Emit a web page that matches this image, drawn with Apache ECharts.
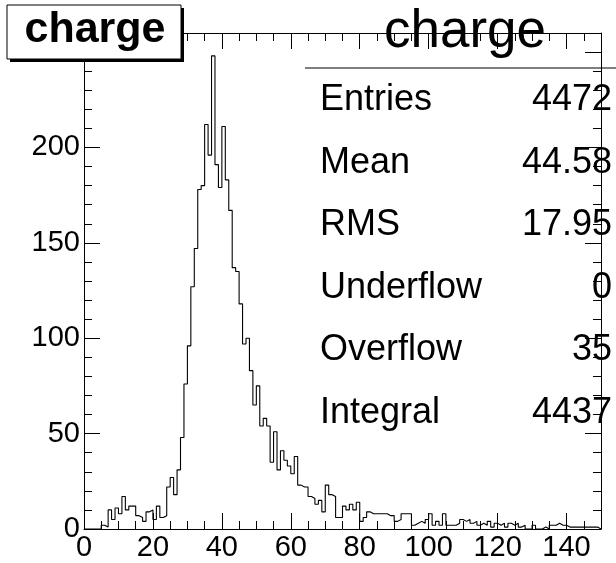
<!DOCTYPE html>
<html><head><meta charset="utf-8">
<script src="https://cdn.jsdelivr.net/npm/echarts@6/dist/echarts.min.js"></script>
<style>html,body{margin:0;padding:0;background:#fff}#c{width:616px;height:563px}</style>
</head><body><div id="c"></div>
<script>
// Histogram definition: 150 bins from 0 to 150
const binLow = 0;
const binHigh = 150;
const counts = [
  0,0,0,0,0, 2,1,10,5,11,
  8,17,10,12,12, 7,6,4,9,10,
  5,12,6,7,22, 27,18,31,48,76,
  96,127,147,178,180, 212,196,248,191,179,
  211,183,167,137,135, 118,97,100,83,65,
  75,54,58,54,35, 51,31,41,36,33,
  29,38,23,22,22, 17,16,13,15,9,
  23,18,17,6,6, 12,10,13,10,14,
  4,6,9,8,8, 8,8,8,7,7,
  4,5,8,8,8, 2,3,4,3,5,
  8,2,4,2,8, 2,2,2,3,5,
  4,5,3,4,2, 3,2,4,1,3,
  2,3,1,3,2, 3,1,2,0,0,
  2,0,0,1,0, 2,2,3,2,2,
  1,1,1,1,1, 1,1,1,1,0
];
const xMajorStep = 20;
const yMajorStep = 50;
const yMax = 260;
const histTitle = 'charge';
const statLabels = ['Entries','Mean','RMS','Underflow','Overflow','Integral'];
const statValues = ['4472','44.58','17.95','0','35','4437'];

const FONT = '"Liberation Sans", Arial, Helvetica, sans-serif';
const nBins = counts.length;
const binW = (binHigh - binLow) / nBins;
const stepData = counts.map((v, i) => [binLow + i * binW, v]);
stepData.push([binHigh, counts[nBins - 1]]);

const axisCommon = {
  type: 'value',
  axisLine: {show: true, onZero: false, lineStyle: {color: '#000', width: 1}},
  axisTick: {show: true, inside: true, lineStyle: {color: '#000', width: 1}},
  minorTick: {show: true, lineStyle: {color: '#000', width: 1}},
  splitLine: {show: false}
};
function xAx(pos, showLabel) {
  return Object.assign({}, axisCommon, {
    position: pos, min: binLow, max: binHigh, interval: xMajorStep,
    axisTick: Object.assign({}, axisCommon.axisTick, {length: 16}),
    minorTick: Object.assign({}, axisCommon.minorTick, {splitNumber: 4, length: 8}),
    axisLabel: {show: showLabel, fontSize: 29, color: '#000', fontFamily: FONT, margin: 4, showMaxLabel: false}
  });
}
function yAx(pos, showLabel) {
  return Object.assign({}, axisCommon, {
    position: pos, min: 0, max: yMax, interval: yMajorStep,
    axisTick: Object.assign({}, axisCommon.axisTick, {length: 16}),
    minorTick: Object.assign({}, axisCommon.minorTick, {splitNumber: 5, length: 8}),
    axisLabel: {show: showLabel, fontSize: 29, color: '#000', fontFamily: FONT, margin: 4, showMaxLabel: false}
  });
}

const statTop = 100, statStep = 62.6, statFs = 36;
const graphics = [
  {type: 'rect', shape: {x: 10, y: 8, width: 174, height: 54}, style: {fill: '#000'}, z: 10},
  {type: 'rect', shape: {x: 7, y: 5, width: 174, height: 54}, style: {fill: '#fff', stroke: '#000', lineWidth: 1}, z: 11},
  {type: 'text', x: 95, y: 30, z: 12, style: {text: histTitle, font: 'bold 43px ' + FONT, fill: '#000', textAlign: 'center', textVerticalAlign: 'middle'}},
  {type: 'text', x: 465, y: 32, z: 12, style: {text: histTitle, font: '53px ' + FONT, fill: '#000', textAlign: 'center', textVerticalAlign: 'middle'}},
  {type: 'line', shape: {x1: 305, y1: 68, x2: 616, y2: 68}, style: {stroke: '#000', lineWidth: 1}, z: 12}
];
statLabels.forEach((lab, k) => {
  const yMid = statTop + k * statStep;
  graphics.push({type: 'text', x: 320, y: yMid, z: 12, style: {text: lab, font: statFs + 'px ' + FONT, fill: '#000', textAlign: 'left', textVerticalAlign: 'middle'}});
  graphics.push({type: 'text', x: 612, y: yMid, z: 12, style: {text: statValues[k], font: statFs + 'px ' + FONT, fill: '#000', textAlign: 'right', textVerticalAlign: 'middle'}});
});

const chart = echarts.init(document.getElementById('c'), null, {renderer: 'canvas'});
chart.setOption({
  animation: false,
  backgroundColor: '#fff',
  grid: {left: 84, top: 33, width: 517, height: 496, containLabel: false},
  xAxis: [xAx('bottom', true), xAx('top', false)],
  yAxis: [yAx('left', true), yAx('right', false)],
  series: [{
    type: 'line', xAxisIndex: 0, yAxisIndex: 0, step: 'end', data: stepData,
    showSymbol: false, symbol: 'none', silent: true,
    lineStyle: {color: '#000', width: 1.1}
  }],
  graphic: graphics
});
</script></body></html>
